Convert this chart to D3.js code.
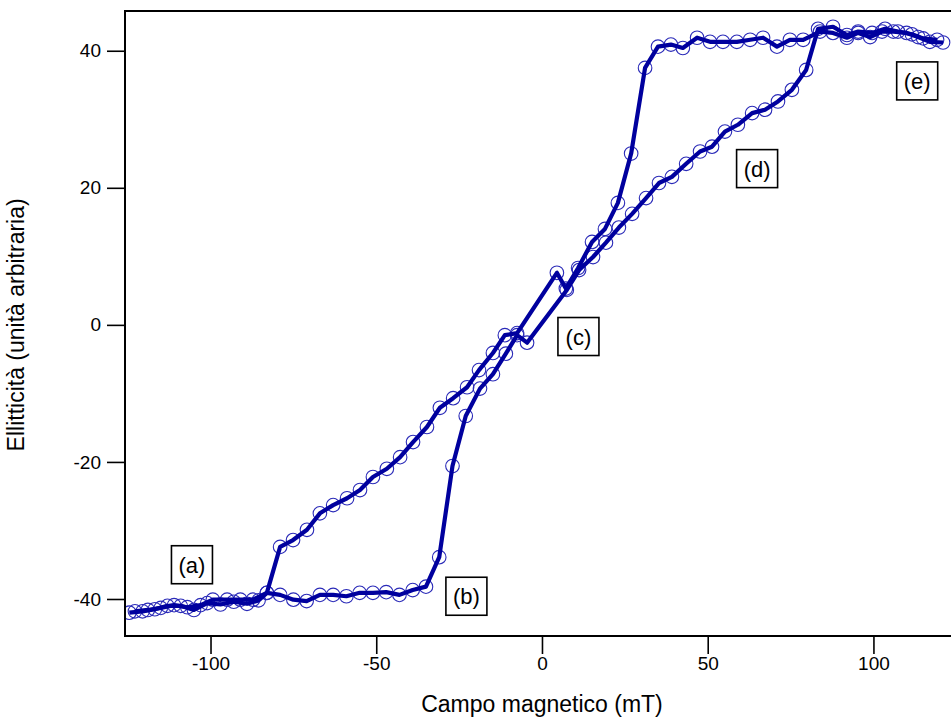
<!DOCTYPE html>
<html>
<head>
<meta charset="utf-8">
<script src="https://cdn.jsdelivr.net/npm/d3@7"></script>
<style>
  body { margin: 0; background: #fff; }
  svg text { font-family: "Liberation Sans", Arial, sans-serif; fill: #000; }
</style>
</head>
<body>
<svg id="chart" width="951" height="722"></svg>
<script>
// ramo crescente (campo da -125 a +120)
let upX = [-124.5,-120.5,-116.8,-113,-109,-105,-101,-97,-93,-89,-85.5,-83,-79,-75,-71,-67,-63,-59,-55,-51,-47,-43,-39,-35,-31,-27,-23,-18.7,-14.8,-10.9,-7.5,-4.5,7.5,11.2,15.4,19.3,23.2,27.2,31.4,35.3,39.2,43.5,47.7,51.3,55.2,59.1,63.4,67.3,71.2,75.4,79.7,83.3,87.8,92,95.4,99.6,103.5,107.4,111.6,115,119.2];
let upY = [-42,-41.8,-41.5,-41,-41,-41.6,-40.6,-40.8,-40.4,-40.7,-40.2,-39.1,-39.4,-40.1,-40.3,-39.4,-39.4,-39.6,-39.1,-39.1,-39,-39.4,-38.7,-38.2,-33.9,-20.6,-13.3,-9.3,-7.2,-4.2,-1.5,-2.6,5.1,8.0,9.9,12,14.2,16.2,18.5,20.7,21.6,23.5,25.3,26,28.2,29.2,30.9,31.4,32.6,34.3,37.2,43.2,43.5,42.3,42.8,42.6,43.2,42.8,42.4,41.8,41.6];
// ramo decrescente (campo da +121 a -123)
let downX = [121,117,113.5,110,106,102.6,99,95.4,92,87.8,83.9,78.8,74.8,70.9,66.7,62.8,58.8,54.6,50.7,46.8,42.5,38.9,35,31.1,26.9,22.9,19,15.1,10.9,7.2,4.5,-7.5,-11.2,-14.8,-19,-22.6,-26.8,-30.8,-34.7,-38.9,-42.8,-46.8,-51,-54.9,-58.8,-63,-67,-70.9,-75.1,-79,-83,-87.2,-91,-95,-99.3,-103,-107,-111,-115,-118.9,-122.8];
let downY = [41.2,41.3,42,42.6,42.8,42.8,42,42.6,41.9,42.6,42.8,41.6,41.6,40.6,41.9,41.6,41.3,41.3,41.3,41.9,40.4,40.9,40.6,37.5,25,17.8,14,12.1,8.3,5.3,7.6,-1.2,-1.5,-4.1,-6.6,-9.1,-10.7,-12.1,-14.9,-17.1,-19.3,-21,-22.2,-24.1,-25.3,-26.3,-27.5,-29.9,-31.4,-32.4,-39.1,-40.1,-40.1,-40.1,-40.1,-40.9,-41.2,-40.9,-41.3,-41.6,-41.8];

let xTicks = [-100,-50,0,50,100];
let yTicks = [-40,-20,0,20,40];

let labelText = ["(a)","(b)","(c)","(d)","(e)"];
let labelX = [-105.6,-22.8,11,64.9,113.2];
let labelY = [-35,-39.6,-1.7,22.8,35.6];

let color = "#00009e";

let svg = d3.select("#chart");
let mLeft = 125, mTop = 11, mRight = 951, mBottom = 636;

let x = d3.scaleLinear().domain([-125.8, 123.4]).range([mLeft, mRight]);
let y = d3.scaleLinear().domain([-45.4, 45.8]).range([mBottom, mTop]);

let plot = svg.append("g");
plot.append("clipPath").attr("id","clip")
    .append("rect").attr("x",mLeft).attr("y",mTop).attr("width",mRight-mLeft).attr("height",mBottom-mTop);

let branches = [
  d3.zip(upX, upY),
  d3.zip(downX, downY)
];

let line = d3.line()
             .x(function(d) {return x(d[0])})
             .y(function(d) {return y(d[1])});

let g = plot.append("g").attr("clip-path","url(#clip)");

branches.forEach(function(b) {
  g.selectAll(null).data(b).enter().append("circle")
   .attr("cx", function(d) {return x(d[0])})
   .attr("cy", function(d) {return y(d[1])})
   .attr("r", 6.8)
   .attr("fill", "none")
   .attr("stroke", "#2a2ab8")
   .attr("stroke-width", 1.1);
});

branches.forEach(function(b) {
  g.append("path")
   .attr("d", line(b))
   .attr("fill", "none")
   .attr("stroke", color)
   .attr("stroke-width", 4.2)
   .attr("stroke-linejoin", "round");
});

// axes (hyphen minus like the original, not U+2212)
let fmt = function(d) {return String(d)};
let xAxis = d3.axisBottom(x).tickValues(xTicks).tickSize(18).tickPadding(3).tickFormat(fmt);
let yAxis = d3.axisLeft(y).tickValues(yTicks).tickSize(18).tickPadding(6).tickFormat(fmt);

let gx = svg.append("g").attr("transform","translate(0," + mBottom + ")").call(xAxis);
let gy = svg.append("g").attr("transform","translate(" + mLeft + ",0)").call(yAxis);

[gx, gy].forEach(function(a) {
  a.select(".domain").remove();
  a.selectAll(".tick line").attr("stroke","#000").attr("stroke-width",1.6);
  a.selectAll(".tick text").attr("font-size",19).attr("font-family","Liberation Sans, Arial, sans-serif").attr("fill","#000");
});

// frame: left, bottom, top
svg.append("path")
   .attr("d", "M" + mRight + "," + mTop + "H" + mLeft + "V" + mBottom + "H" + mRight)
   .attr("fill","none").attr("stroke","#000").attr("stroke-width",2);

// axis titles
svg.append("text")
   .attr("x", x(0)).attr("y", 712)
   .attr("text-anchor","middle").attr("font-size",23)
   .text("Campo magnetico (mT)");

svg.append("text")
   .attr("transform","translate(24," + y(0) + ") rotate(-90)")
   .attr("text-anchor","middle").attr("font-size",23)
   .text("Ellitticità (unità arbitraria)");

// annotation boxes
labelText.forEach(function(t, i) {
  let cx = x(labelX[i]), cy = y(labelY[i]);
  svg.append("rect")
     .attr("x", cx - 20.5).attr("y", cy - 19)
     .attr("width", 41).attr("height", 38)
     .attr("fill","#fff").attr("stroke","#000").attr("stroke-width",1.6);
  svg.append("text")
     .attr("x", cx).attr("y", cy + 8)
     .attr("text-anchor","middle").attr("font-size",22)
     .text(t);
});
</script>
</body>
</html>
